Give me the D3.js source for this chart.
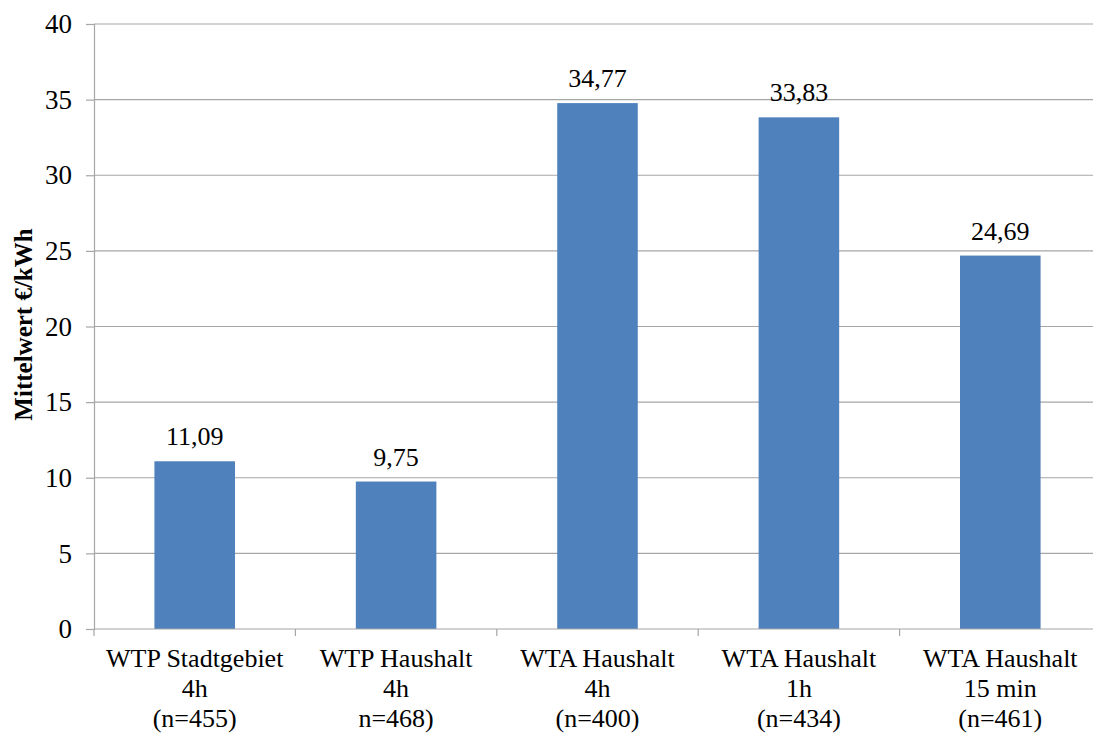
<!DOCTYPE html>
<html>
<head>
<meta charset="utf-8">
<script src="https://cdn.jsdelivr.net/npm/d3@7"></script>
<style>
  html, body { margin: 0; padding: 0; background: #fff; }
</style>
</head>
<body>
<svg id="chart" width="1093" height="733"></svg>
<script>
// Mean values in €/kWh per survey scenario
const categories = [
  ["WTP Stadtgebiet", "4h", "(n=455)"],
  ["WTP Haushalt", "4h", "n=468)"],
  ["WTA Haushalt", "4h", "(n=400)"],
  ["WTA Haushalt", "1h", "(n=434)"],
  ["WTA Haushalt", "15 min", "(n=461)"]
];
const values = [11.09, 9.75, 34.77, 33.83, 24.69];
const valueLabels = ["11,09", "9,75", "34,77", "33,83", "24,69"];
const yTicks = [0, 5, 10, 15, 20, 25, 30, 35, 40];
const yTitle = "Mittelwert €/kWh";

(function () {
  const FONT = "'Liberation Serif', 'Times New Roman', Times, 'DejaVu Serif', serif";
  const svg = d3.select("#chart");
  const plotLeft = 94, plotRight = 1101, plotTop = 24, plotBottom = 629;

  const x = d3.scaleBand()
    .domain(d3.range(categories.length))
    .range([plotLeft, plotRight])
    .paddingInner(0.6)
    .paddingOuter(0.3);

  const y = d3.scaleLinear().domain([0, 40]).range([plotBottom, plotTop]);

  // Horizontal gridlines
  svg.append("g")
    .selectAll("line")
    .data(yTicks.filter(d => d > 0))
    .join("line")
    .attr("x1", plotLeft).attr("x2", plotRight)
    .attr("y1", d => y(d)).attr("y2", d => y(d))
    .attr("stroke", "#a6a6a6").attr("stroke-width", 1.2);

  // Y axis
  const yAxis = svg.append("g")
    .attr("transform", `translate(${plotLeft},0)`)
    .call(d3.axisLeft(y).tickValues(yTicks).tickSize(8).tickPadding(14).tickFormat(d3.format("d")));
  yAxis.attr("font-family", FONT).attr("font-size", 27);
  yAxis.select(".domain").attr("stroke", "#a6a6a6").attr("stroke-width", 1.2);
  yAxis.selectAll(".tick line").attr("stroke", "#a6a6a6").attr("stroke-width", 1.2);
  yAxis.selectAll(".tick text").attr("fill", "#000");

  // Bars
  svg.append("g")
    .selectAll("rect")
    .data(values)
    .join("rect")
    .attr("x", (d, i) => x(i))
    .attr("width", x.bandwidth())
    .attr("y", d => y(d))
    .attr("height", d => y(0) - y(d))
    .attr("fill", "#4f81bd");

  // X axis baseline and category dividers
  const boundaries = d3.range(categories.length + 1)
    .map(i => plotLeft + i * (plotRight - plotLeft) / categories.length);
  svg.append("line")
    .attr("x1", plotLeft).attr("x2", plotRight)
    .attr("y1", plotBottom).attr("y2", plotBottom)
    .attr("stroke", "#a6a6a6").attr("stroke-width", 1.2);
  svg.append("g")
    .selectAll("line")
    .data(boundaries)
    .join("line")
    .attr("x1", d => d).attr("x2", d => d)
    .attr("y1", plotBottom).attr("y2", plotBottom + 7)
    .attr("stroke", "#a6a6a6").attr("stroke-width", 1.2);

  // Category labels (three lines each)
  svg.append("g")
    .attr("font-family", FONT)
    .attr("font-size", 26)
    .selectAll("text")
    .data(categories)
    .join("text")
    .attr("text-anchor", "middle")
    .each(function (lines, i) {
      const t = d3.select(this);
      lines.forEach((ln, j) => {
        t.append("tspan")
          .attr("x", x(i) + x.bandwidth() / 2)
          .attr("y", 667 + j * 30)
          .text(ln);
      });
    });

  // Value labels above bars
  svg.append("g")
    .attr("font-family", FONT)
    .attr("font-size", 26)
    .selectAll("text")
    .data(values)
    .join("text")
    .attr("x", (d, i) => x(i) + x.bandwidth() / 2)
    .attr("y", d => y(d) - 16)
    .attr("text-anchor", "middle")
    .text((d, i) => valueLabels[i]);

  // Y axis title
  svg.append("text")
    .attr("transform", `translate(32,${(plotTop + plotBottom) / 2 - 2}) rotate(-90)`)
    .attr("text-anchor", "middle")
    .attr("font-family", FONT)
    .attr("font-size", 25)
    .attr("font-weight", "bold")
    .text(yTitle);
})();
</script>
</body>
</html>
